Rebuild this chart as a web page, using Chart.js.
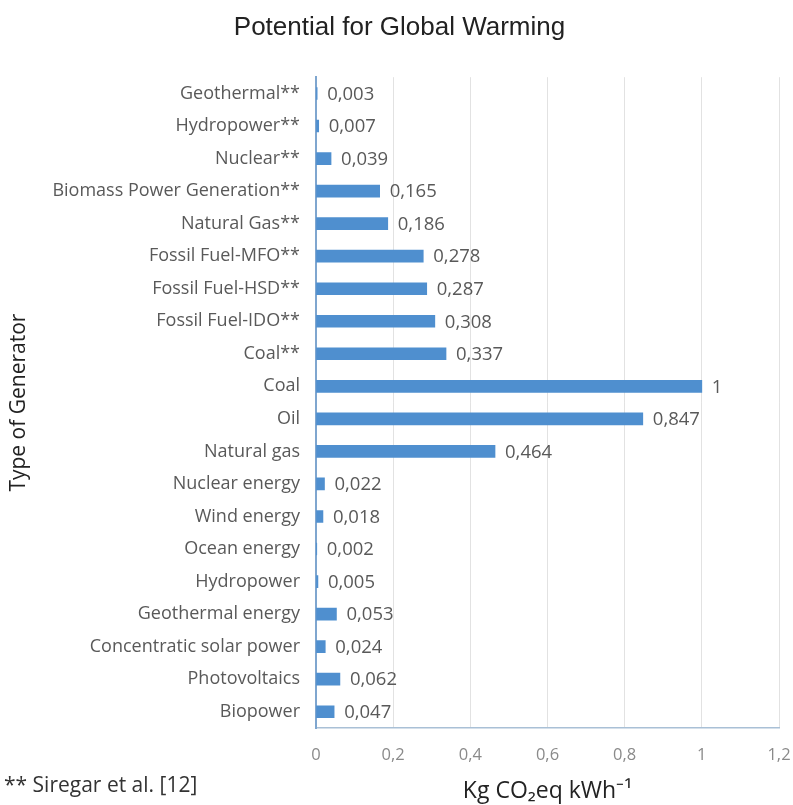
<!DOCTYPE html>
<html>
<head>
<meta charset="utf-8">
<script src="https://cdn.jsdelivr.net/npm/chart.js@4.4.1/dist/chart.umd.min.js"></script>
<style>
    html, body { margin: 0; padding: 0; background: #fff; }
    #wrap { position: relative; width: 793px; height: 805px; }
    #nota {
        position: absolute; left: 4px; top: 770px;
        font-family: 'Open Sans', sans-serif; font-size: 21px; color: #333;
    }
</style>
</head>
<body>
<div id="wrap">
    <canvas id="chart-gwp" width="793" height="805"></canvas>
    <div id="nota">** Siregar et al. [12]</div>
</div>
<script>
const GENERADORES = [
    'Geothermal**', 'Hydropower**', 'Nuclear**', 'Biomass Power Generation**', 'Natural Gas**',
    'Fossil Fuel-MFO**', 'Fossil Fuel-HSD**', 'Fossil Fuel-IDO**', 'Coal**', 'Coal', 'Oil',
    'Natural gas', 'Nuclear energy', 'Wind energy', 'Ocean energy', 'Hydropower',
    'Geothermal energy', 'Concentratic solar power', 'Photovoltaics', 'Biopower'
];
const VALORES = [
    0.003, 0.007, 0.039, 0.165, 0.186, 0.278, 0.287, 0.308, 0.337, 1, 0.847,
    0.464, 0.022, 0.018, 0.002, 0.005, 0.053, 0.024, 0.062, 0.047
];
const X_MIN = 0;
const X_MAX = 1.2;
const X_PASO = 0.2;

const FUENTE = '"Open Sans", sans-serif';
const fmtComa = (v) => String(Number(v.toFixed(3))).replace('.', ',');

// etiquetas de valor a la derecha de cada barra
const etiquetasValor = {
    id: 'etiquetasValor',
    afterDatasetsDraw(chart) {
        const ctx = chart.ctx;
        const meta = chart.getDatasetMeta(0);
        ctx.save();
        ctx.font = '18.5px ' + FUENTE;
        ctx.fillStyle = '#595959';
        ctx.textBaseline = 'middle';
        ctx.textAlign = 'left';
        meta.data.forEach((bar, i) => {
            ctx.fillText(fmtComa(VALORES[i]), bar.x + 10, bar.y + 1);
        });
        ctx.restore();
    }
};

const ctx = document.getElementById('chart-gwp').getContext('2d');
new Chart(ctx, {
    type: 'bar',
    data: {
        labels: GENERADORES,
        datasets: [{
            data: VALORES,
            backgroundColor: '#4f8fcf',
            barThickness: 12,
        }]
    },
    options: {
        responsive: false,
        animation: false,
        indexAxis: 'y',
        layout: { padding: { top: 0, right: 0, bottom: 0, left: 6 } },
        plugins: {
            legend: { display: false },
            tooltip: { enabled: false },
            title: {
                display: true,
                text: 'Potential for Global Warming',
                color: '#222',
                font: { family: '"Liberation Sans", Arial, sans-serif', size: 26, weight: 'normal' },
                padding: { top: 12, bottom: 34 }
            }
        },
        scales: {
            x: {
                min: X_MIN,
                max: X_MAX,
                ticks: {
                    stepSize: X_PASO,
                    padding: 17,
                    color: '#8a8a8a',
                    font: { family: FUENTE, size: 16.5 },
                    callback: (v) => String(Number(v.toFixed(1))).replace('.', ',')
                },
                grid: { color: '#e2e2e2', drawTicks: false },
                border: { color: '#a9c0d6', width: 1.5 },
                title: {
                    display: true,
                    text: 'Kg CO\u2082eq kWh\u207B\u00B9',
                    color: '#222',
                    font: { family: FUENTE, size: 23 },
                    padding: { top: 0, bottom: 0 }
                },
                afterFit: (scale) => {
                    scale.height = 77;
                    scale.paddingRight = 14;
                }
            },
            y: {
                ticks: {
                    color: '#595959',
                    padding: 16,
                    autoSkip: false,
                    font: { family: FUENTE, size: 18 }
                },
                grid: { display: false, drawTicks: false },
                border: { color: '#7fa6cf', width: 2 },
                title: {
                    display: true,
                    text: 'Type of Generator',
                    color: '#222',
                    font: { family: FUENTE, size: 21 },
                    padding: { top: 0, bottom: 6 }
                },
                afterFit: (scale) => { scale.width = 310; }
            }
        }
    },
    plugins: [etiquetasValor]
});
</script>
</body>
</html>
